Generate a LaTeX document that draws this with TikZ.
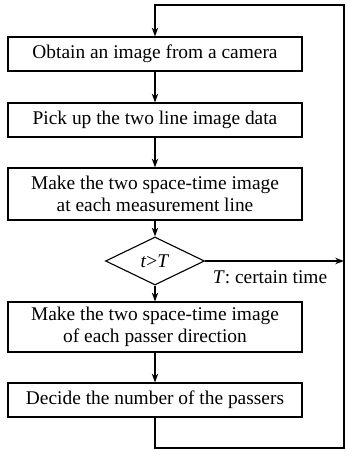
\documentclass[tikz,border=0pt]{standalone}
\usepackage{fontspec}
\setmainfont{Liberation Serif}
\usetikzlibrary{shapes.geometric,arrows.meta}

\begin{document}
\begin{tikzpicture}[
    proc/.style = {draw, line width=0.8pt, minimum width=7.35cm, inner sep=0pt, align=center, font=\fontsize{13.8}{16}\selectfont},
    cond/.style = {draw, diamond, line width=0.8pt, aspect=2, minimum width=2.475cm, minimum height=1.2cm, inner sep=0pt, font=\fontsize{13.8}{16}\selectfont},
    flow/.style = {line width=0.8pt, -{Stealth[length=2.2mm,width=1.6mm]}}
  ]
            \useasboundingbox (0,0) rectangle (8.65,11.3);
            \node[proc, minimum height=0.85cm] (obtain) at (3.875,9.95) {Obtain an image from a camera};
            \node[proc, minimum height=0.85cm] (pick) at (3.875,8.3) {Pick up the two line image data};
            \node[proc, minimum height=1.3cm] (line) at (3.875,6.45) {Make the two space-time image\\at each measurement line};
            \node[cond] (check) at (3.875,4.775) {\textit{t}>\textit{T}};
            \node[font=\fontsize{13.8}{16}\selectfont] (note) at (6.75,4.38) {\textit{T}: certain time};
            \node[proc, minimum height=1.25cm] (dir) at (3.875,3.125) {Make the two space-time image\\of each passer direction};
            \node[proc, minimum height=0.85cm] (decide) at (3.875,1.3) {Decide the number of the passers};
            \coordinate (bl) at (3.875,0.1);
            \coordinate (br) at (8.6,0.1);
            \coordinate (tr) at (8.6,11.175);
            \coordinate (tl) at (3.875,11.175);
            \coordinate (exit) at (8.6,4.775);
            \draw[flow] (obtain) -- (pick);
            \draw[flow] (pick) -- (line);
            \draw[flow] (line) -- (check);
            \draw[flow] (check) -- (dir);
            \draw[flow] (dir) -- (decide);
            \draw[flow] (check) -- (exit);
            \draw[flow] (decide) -- (bl) -- (br) -- (tr) -- (tl) -- (obtain);
        \end{tikzpicture}
\end{document}
